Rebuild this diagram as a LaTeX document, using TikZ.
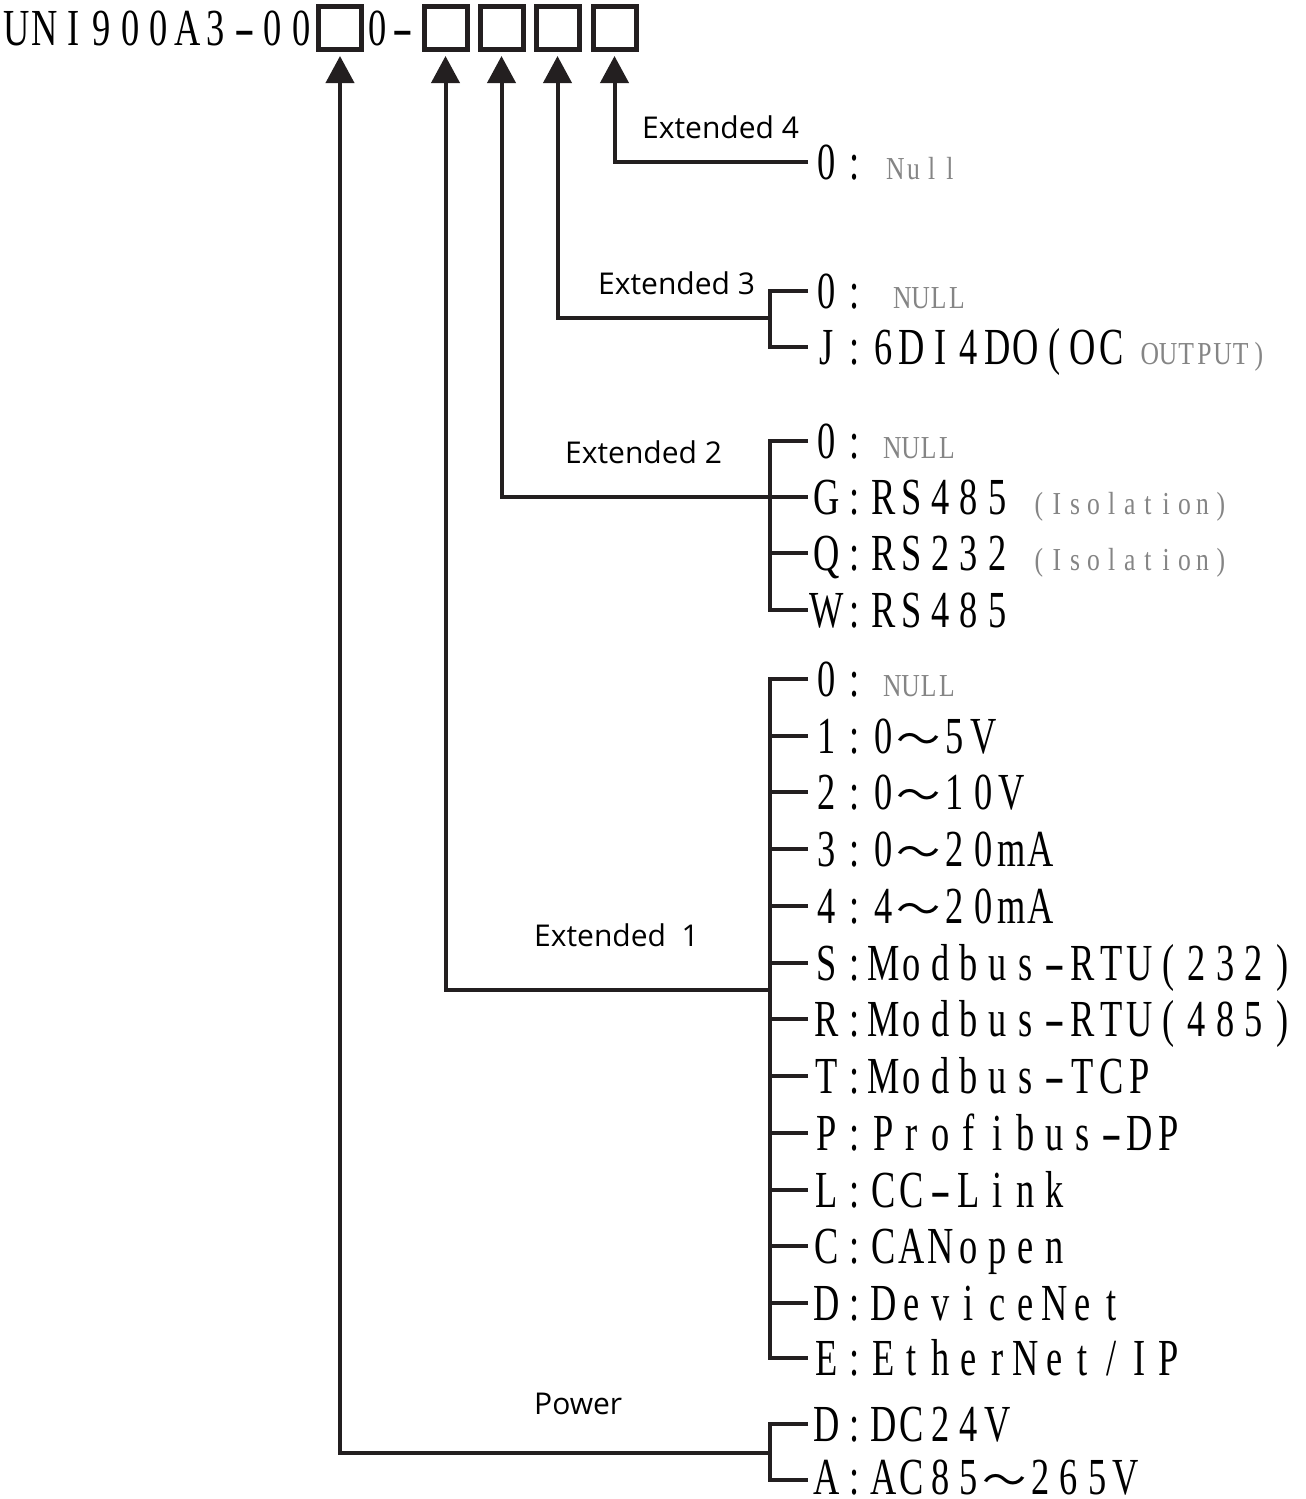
\documentclass[tikz,border=0pt]{standalone}
\usepackage{fontspec}
\usepackage{graphicx}
\setmainfont{Liberation Serif}
\newfontfamily\nar[FakeStretch=0.7]{Liberation Serif}
\newfontfamily\narg[FakeStretch=0.8]{Liberation Serif}
\newfontfamily\lab{Open Sans}
\newfontfamily\cjk{Noto Sans CJK SC}
\usetikzlibrary{arrows.meta}
\definecolor{ink}{HTML}{231F20}
\definecolor{graytxt}{HTML}{858585}
\newlength\mw
\def\monoend{\monoend}
\newcommand\tld{{\cjk\scalebox{0.85}[0.75]{～}}}
\def\monoloop#1{\ifx\monoend#1\else\ifx\tld#1\makebox[1.5\mw][c]{#1}\else\ifx-#1\makebox[\mw][c]{\scalebox{1.7}[1]{-}}\else\makebox[\mw][c]{#1}\fi\fi\expandafter\monoloop\fi}
\newcommand\mono[2]{\setlength\mw{#1}\monoloop#2\monoend}
\newcommand\gtxt[2]{\hspace*{#1}{\color{graytxt}\narg\fontsize{32}{32}\selectfont\mono{18.2pt}{#2}}}
\newcommand\mtxt[1]{\mono{28.5pt}{#1}}
\tikzset{
  conn/.style={draw=ink, line width=4pt, line join=miter},
  arr/.style={conn, -{Triangle[width=28pt,length=27pt]}, shorten >=4pt},
  boxst/.style={draw=ink, line width=5pt, minimum size=43pt, inner sep=0pt},
  item/.style={anchor=base west, inner sep=0pt, text=black, font=\nar\fontsize{52}{52}\selectfont},
  lbl/.style={anchor=base west, inner sep=0pt, text=black, font=\lab\fontsize{30}{36}\selectfont},
}
\newcommand\opt[3]{\coordinate (#1) at (808,#2); \node[item] (#1t) at (812,#2+17) {#3};}
\def\bx{770}
\begin{document}
\begin{tikzpicture}[x=1pt,y=-1pt]
\fill[white] (0,0) rectangle (1306,1499);
\useasboundingbox (0,0) rectangle (1306,1499);
% header
\node[item] (hdr) at (2,45) {\mono{28.5pt}{UNI900A3-00}};
\node[boxst] (b1) at (340,28) {};
\node[item] (hdr2) at (364,45) {\mono{26pt}{0-}};
\node[boxst] (b2) at (445.5,28) {};
\node[boxst] (b3) at (501.5,28) {};
\node[boxst] (b4) at (557.5,28) {};
\node[boxst] (b5) at (614.5,28) {};
% Extended 4
\opt{e4a}{162}{\mtxt{0:}\gtxt{17pt}{Null}}
\coordinate (e4j) at (808,162);
\draw[arr] (e4j) -| (b5.south);
\node[lbl] (l4) at (642,138) {Extended 4};
% Extended 3
\opt{e3a}{291}{\mtxt{0:}\gtxt{24pt}{NULL}}
\opt{e3b}{347}{\mtxt{J:6DI4DO(OC}\gtxt{15pt}{OUTPUT)}}
\draw[conn] (e3a) -- (\bx,291) -- (\bx,347) -- (e3b);
\coordinate (e3j) at (\bx,318);
\draw[arr] (e3j) -| (b4.south);
\node[lbl] (l3) at (598,294) {Extended 3};
% Extended 2
\opt{e2a}{441}{\mtxt{0:}\gtxt{14pt}{NULL}}
\opt{e2b}{497}{\mtxt{G:RS485}\gtxt{18pt}{(Isolation)}}
\opt{e2c}{553}{\mtxt{Q:RS232}\gtxt{18pt}{(Isolation)}}
\opt{e2d}{610}{\mtxt{W:RS485}}
\draw[conn] (e2a) -- (\bx,441) -- (\bx,610) -- (e2d);
\draw[conn] (\bx,497) -- (e2b);
\draw[conn] (\bx,553) -- (e2c);
\coordinate (e2j) at (\bx,497);
\draw[arr] (e2j) -| (b3.south);
\node[lbl] (l2) at (565,463) {Extended 2};
% Extended 1
\opt{e1a}{679}{\mtxt{0:}\gtxt{14pt}{NULL}}
\opt{e1b}{736}{\mtxt{1:0\tld5V}}
\opt{e1c}{792}{\mtxt{2:0\tld10V}}
\opt{e1d}{849}{\mtxt{3:0\tld20mA}}
\opt{e1e}{906}{\mtxt{4:4\tld20mA}}
\opt{e1f}{963}{\mtxt{S:Modbus-RTU(232)}}
\opt{e1g}{1019}{\mtxt{R:Modbus-RTU(485)}}
\opt{e1h}{1076}{\mtxt{T:Modbus-TCP}}
\opt{e1i}{1133}{\mtxt{P:Profibus-DP}}
\opt{e1k}{1190}{\mtxt{L:CC-Link}}
\opt{e1l}{1246}{\mtxt{C:CANopen}}
\opt{e1m}{1303}{\mtxt{D:DeviceNet}}
\opt{e1n}{1358}{\mtxt{E:EtherNet/IP}}
\draw[conn] (e1a) -- (\bx,679) -- (\bx,1358) -- (e1n);
\foreach \c/\y in {e1b/736,e1c/792,e1d/849,e1e/906,e1f/963,e1g/1019,e1h/1076,e1i/1133,e1k/1190,e1l/1246,e1m/1303}
  \draw[conn] (\bx,\y) -- (\c);
\coordinate (e1j) at (\bx,990);
\draw[arr] (e1j) -| (b2.south);
\node[lbl] (l1) at (534,946) {Extended\ \ 1};
% Power
\opt{pwa}{1424}{\mtxt{D:DC24V}}
\coordinate (pwb) at (808,1480);
\node[item] (pwbt) at (812,1494) {\mtxt{A:AC85\tld265V}};
\draw[conn] (pwa) -- (\bx,1424) -- (\bx,1480) -- (pwb);
\coordinate (pwj) at (\bx,1453);
\draw[arr] (pwj) -| (b1.south);
\node[lbl] (l0) at (534,1414) {Power};
\end{tikzpicture}
\end{document}
